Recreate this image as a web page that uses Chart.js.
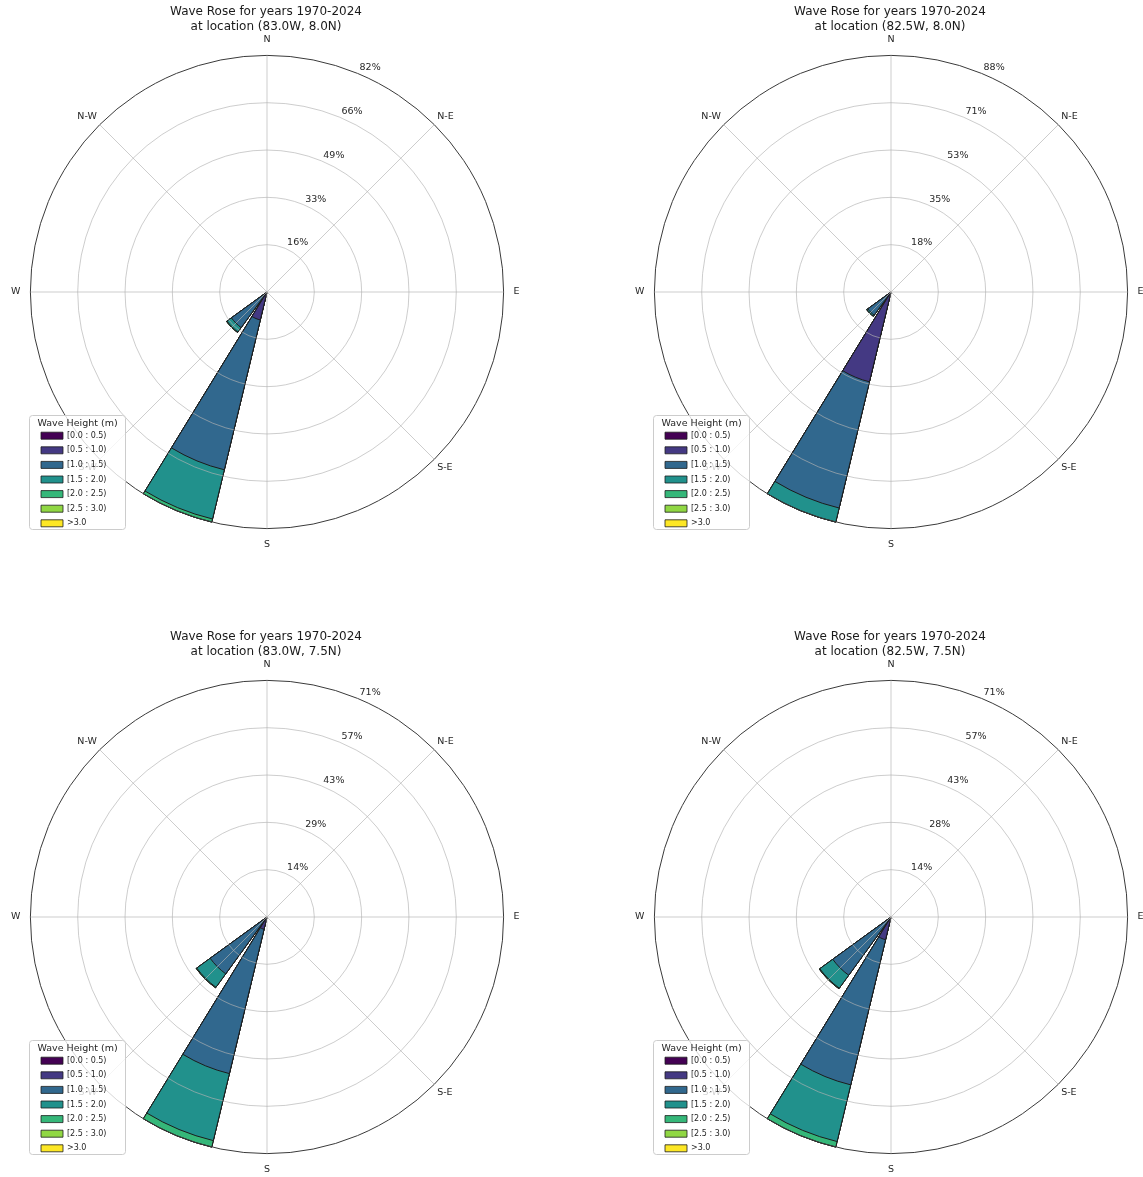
<!DOCTYPE html>
<html>
<head>
<meta charset="utf-8">
<script src="https://cdn.jsdelivr.net/npm/chart.js"></script>
<style>
  html, body { margin: 0; padding: 0; background: #ffffff; width: 1143px; height: 1177px; overflow: hidden; position: relative; }
  canvas { position: absolute; }
</style>
</head>
<body>
<canvas id="rose1" width="512" height="551" style="left:10px;top:0px"></canvas>
<canvas id="rose2" width="512" height="551" style="left:634px;top:0px"></canvas>
<canvas id="rose3" width="512" height="551" style="left:10px;top:625px"></canvas>
<canvas id="rose4" width="512" height="551" style="left:634px;top:625px"></canvas>
<script>
// ---------------- data ----------------
const DIRECTIONS = ['N','NNE','NE','ENE','E','ESE','SE','SSE','S','SSW','SW','WSW','W','WNW','NW','NNW'];
const BINS = ['[0.0 : 0.5)','[0.5 : 1.0)','[1.0 : 1.5)','[1.5 : 2.0)','[2.0 : 2.5)','[2.5 : 3.0)','>3.0'];
const BIN_COLORS = ['#440154','#443983','#31688e','#21918c','#35b779','#90d743','#fde725'];
const COMPASS = ['N','N-E','E','S-E','S','S-W','W','N-W'];
const TITLE_LINE = 'Wave Rose for years 1970-2024';
const LOCATIONS = ['(83.0W, 8.0N)','(82.5W, 8.0N)','(83.0W, 7.5N)','(82.5W, 7.5N)'];
const LEGEND_TITLE = 'Wave Height (m)';

// frequency (%) per wave-height bin, for the directions that have waves
const R1_SSW = [0.3, 9.7, 53.6, 17.6, 1.1, 0, 0];
const R1_SW  = [0.0, 0.5, 14.8, 1.9, 0.2, 0, 0];
const R2_SSW = [0.4, 34.1, 48.5, 5.4, 0, 0, 0];
const R2_SW  = [0.0, 1.5, 9.2, 0.5, 0, 0, 0];
const R3_SSW = [0.3, 3.5, 44.8, 20.8, 2.0, 0, 0];
const R3_SW  = [0.0, 0.8, 20.4, 5.0, 0.2, 0, 0];
const R4_SSW = [0.2, 6.8, 44.8, 17.5, 1.7, 0, 0];
const R4_SW  = [0.0, 0.6, 21.0, 4.8, 0.2, 0, 0];

const ROSES = [
  { SSW: R1_SSW, SW: R1_SW },
  { SSW: R2_SSW, SW: R2_SW },
  { SSW: R3_SSW, SW: R3_SW },
  { SSW: R4_SSW, SW: R4_SW }
];

// ---------------- styling ----------------
const FONT = "'DejaVu Sans', sans-serif";
const PETAL_DEG = 18;      // petal opening
const GAP_DEG = 4.5;       // gap between petals
const GRID_COLOR = 'rgba(178,178,178,0.65)';

Chart.defaults.font.family = FONT;

// 40 slots of 9 degrees starting at -9 deg: compass names every 5th slot (0,45,90,...)
const POINT_LABELS = [];
for (let i = 0; i < 40; i++) POINT_LABELS.push((i % 5 === 1) ? COMPASS[(i - 1) / 5] : '');

const roseExtras = {
  id: 'roseExtras',
  beforeDraw(chart) {
    const lg = chart.legend;
    if (lg && !lg._roseDraw) { lg._roseDraw = lg.draw; lg.draw = function () {}; }
  },
  afterDraw(chart) {
    const s = chart.scales.r;
    const ctx = chart.ctx;
    const xc = s.xCenter, yc = s.yCenter;
    ctx.save();
    // radial tick labels at 22.5 deg
    ctx.font = '9.5px ' + FONT;
    ctx.fillStyle = '#262626';
    ctx.textAlign = 'left';
    ctx.textBaseline = 'middle';
    const a = 22.5 * Math.PI / 180;
    s.ticks.forEach((t, i) => {
      if (i === 0) return;
      const r = s.getDistanceFromCenterForValue(t.value);
      ctx.fillText(t.label, xc + r * Math.sin(a) + 2, yc - r * Math.cos(a) - 5.5);
    });
    // legend frame
    const fx = Math.round(xc - 238) + 0.5, fy = Math.round(yc + 123) + 0.5, fw = 96, fh = 114;
    ctx.beginPath();
    if (ctx.roundRect) ctx.roundRect(fx, fy, fw, fh, 3); else ctx.rect(fx, fy, fw, fh);
    ctx.fillStyle = 'rgba(255,255,255,0.8)';
    ctx.fill();
    ctx.strokeStyle = '#cccccc';
    ctx.lineWidth = 1;
    ctx.stroke();
    ctx.restore();
    // legend on top
    const lg = chart.legend;
    if (lg && lg._roseDraw) {
      const saved = { left: lg.left, top: lg.top, right: lg.right, bottom: lg.bottom, width: lg.width, height: lg.height };
      lg.left = xc - 232.6; lg.top = yc + 123.55; lg.width = 86.2; lg.height = 200;
      lg.right = lg.left + lg.width; lg.bottom = lg.top + lg.height;
      lg._roseDraw.call(lg);
      Object.assign(lg, saved);
    }
  }
};

function buildRose(canvasId, idx) {
  const rose = ROSES[idx];
  const table = DIRECTIONS.map(d => rose[d] || [0, 0, 0, 0, 0, 0, 0]);
  const totals = table.map(row => row.reduce((p, v) => p + v, 0));
  const rmax = Math.max(...totals);

  const datasets = BINS.map((bin, k) => {
    const data = [];
    table.forEach(row => {
      let cum = 0;
      for (let j = 0; j <= k; j++) cum += row[j];
      data.push(Math.round(cum * 1000) / 1000);
      data.push(0);
    });
    return {
      label: bin,
      data,
      backgroundColor: BIN_COLORS[k],
      borderColor: '#1c1c1c',
      borderWidth: c => (c.raw > 0 ? 1 : 0),
      angle: c => (c.dataIndex % 2 === 0 ? PETAL_DEG : GAP_DEG)
    };
  });

  const labels = [];
  DIRECTIONS.forEach(d => { labels.push(d); labels.push(''); });

  return new Chart(document.getElementById(canvasId), {
    type: 'polarArea',
    data: { labels, datasets },
    plugins: [roseExtras],
    options: {
      responsive: false,
      animation: false,
      devicePixelRatio: 1,
      events: [],
      layout: { padding: 0 },
      scales: {
        r: {
          min: 0,
          max: rmax,
          startAngle: -PETAL_DEG / 2,
          labels: POINT_LABELS,
          afterBuildTicks: (s) => { s.ticks = [0, 1, 2, 3, 4, 5].map(i => ({ value: rmax * i / 5 })); },
          ticks: { display: false, callback: v => Math.round(v) + '%' },
          grid: {
            circular: true,
            z: 1,
            color: c => (c.index === 5 ? '#3a3a3a' : GRID_COLOR),
            lineWidth: 1
          },
          angleLines: {
            display: true,
            color: GRID_COLOR,
            lineWidth: c => (c.label ? 1 : 0)
          },
          pointLabels: {
            display: true,
            padding: c => (((c.index - 1) / 5) % 2 === 1 ? 4 : 10),
            color: '#262626',
            font: { size: 9.5, family: FONT }
          }
        }
      },
      plugins: {
        tooltip: { enabled: false },
        title: {
          display: true,
          text: [TITLE_LINE, 'at location ' + LOCATIONS[idx]],
          color: '#1a1a1a',
          font: { size: 12, weight: 'normal', family: FONT, lineHeight: 1.2 },
          padding: { top: 5, bottom: 0 }
        },
        legend: {
          display: true,
          position: 'chartArea',
          align: 'start',
          title: {
            display: true,
            text: LEGEND_TITLE,
            color: '#262626',
            font: { size: 9.5, family: FONT, lineHeight: '6.55px' },
            padding: { top: 3, bottom: 0 }
          },
          labels: {
            boxWidth: 22,
            boxHeight: 7,
            padding: 6.6,
            color: '#262626',
            font: { size: 8, family: FONT },
            generateLabels: () => BINS.map((b, i) => ({
              text: b,
              fillStyle: BIN_COLORS[i],
              strokeStyle: '#1c1c1c',
              lineWidth: 0.8,
              hidden: false,
              datasetIndex: i
            }))
          }
        }
      }
    }
  });
}

buildRose('rose1', 0);
buildRose('rose2', 1);
buildRose('rose3', 2);
buildRose('rose4', 3);
</script>
</body>
</html>
